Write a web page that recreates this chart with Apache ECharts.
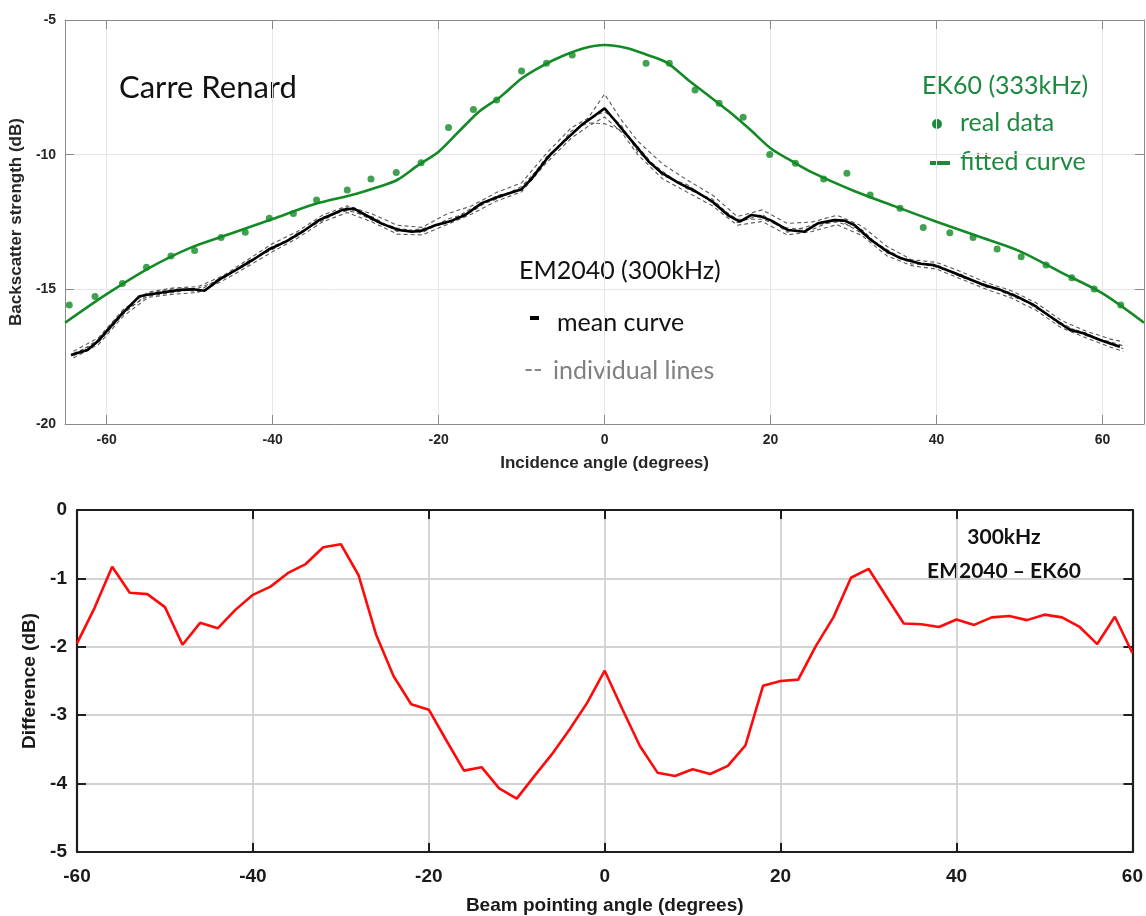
<!DOCTYPE html>
<html><head><meta charset="utf-8">
<script src="https://cdn.jsdelivr.net/npm/echarts@6/dist/echarts.min.js"></script>
<style>html,body{margin:0;padding:0;background:#fff}#c{width:1146px;height:916px}</style>
</head><body><div id="c"></div><script>
// ---------- Top chart data (Carre Renard) ----------
// EK60 fitted curve
const fitX = [-65,-60,-55,-50,-45,-40,-35,-30,-27.5,-25,-22.5,-20,-17.5,-15,-12.5,-10,-7.5,-5,-2.5,0,2.5,5,7.5,10,12.5,15,17.5,20,22.5,25,30,35,40,45,50,55,60,65];
const fitY = [-16.24,-15.18,-14.23,-13.47,-12.93,-12.39,-11.84,-11.46,-11.22,-10.94,-10.40,-9.89,-9.12,-8.37,-7.84,-7.17,-6.70,-6.33,-6.05,-5.93,-6.03,-6.28,-6.58,-7.21,-7.80,-8.40,-9.06,-9.76,-10.23,-10.66,-11.34,-11.92,-12.49,-13.03,-13.58,-14.37,-15.15,-16.24];
// EK60 real data points
const ptX = [-64.5,-61.4,-58.1,-55.2,-52.25,-49.4,-46.2,-43.3,-40.4,-37.5,-34.7,-31.0,-28.15,-25.1,-22.1,-18.8,-15.8,-13.0,-10.0,-7.0,-3.9,5.0,7.8,10.9,13.8,16.7,19.9,23.0,26.4,29.2,32.0,35.6,38.4,41.6,44.4,47.3,50.2,53.2,56.3,59.0,62.2];
const ptY = [-15.58,-15.27,-14.78,-14.18,-13.76,-13.56,-13.08,-12.88,-12.36,-12.18,-11.68,-11.31,-10.90,-10.66,-10.30,-8.99,-8.32,-7.97,-6.89,-6.61,-6.30,-6.61,-6.61,-7.60,-8.09,-8.61,-9.99,-10.32,-10.90,-10.69,-11.50,-11.99,-12.70,-12.90,-13.08,-13.50,-13.79,-14.10,-14.57,-14.99,-15.58];
// EM2040 mean curve
const meanX = [-64.3,-62.3,-61.1,-59.7,-58.1,-56.1,-55.3,-53.3,-51.2,-49.6,-48.2,-46.4,-44.4,-42.4,-40.4,-38.4,-36.4,-34.4,-33.0,-31.6,-30.2,-28.8,-26.8,-24.8,-23.2,-22.0,-20.4,-18.4,-16.8,-14.8,-12.8,-10.0,-8.8,-6.7,-4.7,-2.7,-1.1,0,1.3,3.3,5.3,6.9,8.9,10.9,12.9,14.9,16.3,17.7,18.9,20.1,22.1,24.1,25.7,27.7,28.9,30.1,32.1,34.1,35.7,38.1,39.7,41.7,43.7,45.7,47.7,49.7,51.7,53.7,56.1,57.7,59.7,62.1];
const meanY = [-17.44,-17.25,-16.94,-16.45,-15.89,-15.27,-15.21,-15.12,-15.02,-15.00,-15.05,-14.63,-14.28,-13.91,-13.51,-13.23,-12.86,-12.43,-12.24,-12.05,-12.0,-12.24,-12.57,-12.80,-12.86,-12.82,-12.62,-12.45,-12.24,-11.80,-11.56,-11.28,-10.90,-10.05,-9.45,-8.88,-8.53,-8.28,-8.75,-9.50,-10.25,-10.68,-11.05,-11.35,-11.72,-12.25,-12.49,-12.24,-12.30,-12.45,-12.80,-12.86,-12.55,-12.43,-12.45,-12.61,-13.17,-13.60,-13.85,-14.05,-14.10,-14.34,-14.59,-14.84,-15.02,-15.27,-15.58,-16.01,-16.51,-16.63,-16.88,-17.13];
// EM2040 individual lines
const indX = [-64,-61,-58,-55,-52,-49,-46,-43,-40,-37,-34,-31,-28,-25,-22,-19,-16,-13,-10,-7,-4,-2,0,2,4,7,10,13,16,19,22,25,28,31,34,37,40,43,46,49,52,55,58,61,62.5];
const ind1 = [-17.30,-16.80,-15.75,-15.10,-14.95,-14.90,-14.50,-13.90,-13.30,-12.85,-12.25,-11.90,-12.20,-12.62,-12.70,-12.20,-11.90,-11.40,-11.05,-9.95,-9.00,-8.65,-7.75,-8.70,-9.50,-10.35,-10.95,-11.50,-12.30,-12.05,-12.55,-12.50,-12.25,-12.65,-13.40,-13.90,-14.00,-14.35,-14.75,-15.05,-15.50,-16.15,-16.55,-16.85,-16.95];
const ind2 = [-17.55,-17.05,-16.00,-15.30,-15.18,-15.12,-14.68,-14.15,-13.60,-13.10,-12.50,-12.15,-12.50,-12.95,-12.98,-12.60,-12.20,-11.72,-11.38,-10.30,-9.38,-8.95,-8.60,-9.15,-10.00,-10.90,-11.40,-11.90,-12.62,-12.48,-12.98,-12.85,-12.60,-13.00,-13.75,-14.12,-14.25,-14.62,-15.00,-15.32,-15.78,-16.42,-16.80,-17.15,-17.30];
const ind3 = [-17.38,-16.98,-15.92,-15.15,-14.98,-15.08,-14.52,-14.08,-13.40,-13.02,-12.32,-12.08,-12.30,-12.85,-12.75,-12.55,-11.98,-11.65,-11.18,-10.22,-9.12,-8.82,-8.85,-9.10,-9.70,-10.78,-11.12,-11.80,-12.40,-12.40,-12.72,-12.78,-12.38,-12.92,-13.52,-14.06,-14.08,-14.55,-14.82,-15.25,-15.60,-16.35,-16.62,-17.05,-17.20];
const ind4 = [-17.48,-16.86,-15.80,-15.25,-15.12,-14.96,-14.62,-13.96,-13.52,-12.92,-12.45,-11.96,-12.44,-12.72,-12.90,-12.40,-12.12,-11.52,-11.32,-10.08,-9.28,-8.68,-8.40,-8.90,-9.90,-10.62,-11.28,-11.65,-12.52,-12.22,-12.88,-12.62,-12.50,-12.78,-13.65,-13.95,-14.18,-14.45,-14.92,-15.12,-15.70,-16.25,-16.72,-16.95,-17.10];

// ---------- Bottom chart data (difference) ----------
const diffX = [-60,-58,-56,-54,-52,-50,-48,-46,-44,-42,-40,-38,-36,-34,-32,-30,-28,-26,-24,-22,-20,-18,-16,-14,-12,-10,-8,-6,-4,-2,0,2,4,6,8,10,12,14,16,18,20,22,24,26,28,30,32,34,36,38,40,42,44,46,48,50,52,54,56,58,60];
const diffY = [-1.95,-1.43,-0.83,-1.21,-1.23,-1.42,-1.97,-1.65,-1.73,-1.46,-1.24,-1.12,-0.92,-0.79,-0.545,-0.50,-0.95,-1.82,-2.43,-2.84,-2.92,-3.37,-3.81,-3.76,-4.07,-4.22,-3.89,-3.57,-3.21,-2.82,-2.35,-2.91,-3.45,-3.84,-3.89,-3.79,-3.86,-3.74,-3.44,-2.57,-2.50,-2.48,-1.99,-1.57,-0.99,-0.86,-1.26,-1.66,-1.67,-1.71,-1.60,-1.68,-1.57,-1.55,-1.61,-1.53,-1.57,-1.71,-1.96,-1.56,-2.09];

const zip = (xs, ys) => xs.map((x, i) => [x, ys[i]]);
const FONT = '"Liberation Sans", Arial, sans-serif';
const TFONT = 'Lato, "Open Sans", sans-serif';
const GREEN = '#138a26';
const GREEN_T = '#1b8a3e';
const TOPG = '#8a8a8a';
const DARK = '#1e1e1e';

const topAxisCommon = {
  type: 'value', gridIndex: 0,
  axisLine: { show: true, onZero: false, lineStyle: { color: TOPG, width: 1 } },
  axisTick: { show: true, inside: true, length: 9, lineStyle: { color: TOPG, width: 1 } }
};
const botAxisCommon = {
  type: 'value', gridIndex: 1,
  axisLine: { show: true, onZero: false, lineStyle: { color: DARK, width: 2.2 } },
  axisTick: { show: true, inside: true, length: 9, lineStyle: { color: DARK, width: 2 } }
};
const topLabel = { color: '#262626', fontFamily: FONT, fontWeight: 'bold', fontSize: 14 };
const botLabel = { color: '#1a1a1a', fontFamily: FONT, fontWeight: 'bold', fontSize: 19 };

const chart = echarts.init(document.getElementById('c'));
chart.setOption({
  animation: false,
  backgroundColor: '#fff',
  grid: [
    { left: 62, right: 2, top: 20, height: 404 },
    { left: 77, right: 13, top: 510, height: 343 }
  ],
  xAxis: [
    Object.assign({}, topAxisCommon, {
      min: -65, max: 65, splitNumber: 6, position: 'bottom',
      axisLabel: Object.assign({ showMinLabel: false, showMaxLabel: false, margin: 9 }, topLabel),
      splitLine: { show: true, lineStyle: { color: '#e6e6e6', width: 1 } },
      name: 'Incidence angle (degrees)', nameLocation: 'middle', nameGap: 31,
      nameTextStyle: { color: '#262626', fontFamily: FONT, fontWeight: 'bold', fontSize: 17 }
    }),
    Object.assign({}, topAxisCommon, {
      min: -65, max: 65, splitNumber: 6, position: 'top',
      axisLabel: { show: false }, splitLine: { show: false }
    }),
    Object.assign({}, botAxisCommon, {
      min: -60, max: 60, interval: 20, position: 'bottom',
      axisLabel: Object.assign({ margin: 15 }, botLabel),
      splitLine: { show: true, lineStyle: { color: '#d2d2d2', width: 1.8 } },
      name: 'Beam pointing angle (degrees)', nameLocation: 'middle', nameGap: 44,
      nameTextStyle: { color: '#1a1a1a', fontFamily: FONT, fontWeight: 'bold', fontSize: 19 }
    }),
    Object.assign({}, botAxisCommon, {
      min: -60, max: 60, interval: 20, position: 'top',
      axisLabel: { show: false }, splitLine: { show: false }
    })
  ],
  yAxis: [
    Object.assign({}, topAxisCommon, {
      min: -20, max: -5, interval: 5, position: 'left',
      axisLabel: Object.assign({ margin: 9 }, topLabel),
      splitLine: { show: true, lineStyle: { color: '#e6e6e6', width: 1 } },
      name: 'Backscatter strength (dB)', nameLocation: 'middle', nameGap: 35,
      nameTextStyle: { color: '#262626', fontFamily: FONT, fontWeight: 'bold', fontSize: 17 }
    }),
    Object.assign({}, topAxisCommon, {
      min: -20, max: -5, interval: 5, position: 'right',
      axisLabel: { show: false }, splitLine: { show: false }
    }),
    Object.assign({}, botAxisCommon, {
      min: -5, max: 0, interval: 1, position: 'left',
      axisLabel: Object.assign({ margin: 10 }, botLabel),
      splitLine: { show: true, lineStyle: { color: '#d2d2d2', width: 1.8 } },
      name: 'Difference (dB)', nameLocation: 'middle', nameGap: 32,
      nameTextStyle: { color: '#1a1a1a', fontFamily: FONT, fontWeight: 'bold', fontSize: 19 }
    }),
    Object.assign({}, botAxisCommon, {
      min: -5, max: 0, interval: 1, position: 'right',
      axisLabel: { show: false }, splitLine: { show: false }
    })
  ],
  series: [
    ...[ind1, ind2, ind3, ind4].map(arr => ({
      type: 'line', xAxisIndex: 0, yAxisIndex: 0, data: zip(indX, arr),
      symbol: 'none', z: 2,
      lineStyle: { color: '#3c3c3c', width: 1.1, type: [4, 3], opacity: 0.85 }
    })),
    {
      type: 'line', xAxisIndex: 0, yAxisIndex: 0, data: zip(meanX, meanY),
      symbol: 'none', z: 3, lineStyle: { color: '#000', width: 2.6 }
    },
    {
      type: 'line', xAxisIndex: 0, yAxisIndex: 0, data: zip(fitX, fitY),
      symbol: 'none', smooth: 0.3, z: 4, lineStyle: { color: GREEN, width: 2.6 }
    },
    {
      type: 'scatter', xAxisIndex: 0, yAxisIndex: 0, data: zip(ptX, ptY),
      symbol: 'circle', symbolSize: 7, z: 5, itemStyle: { color: GREEN }
    },
    {
      type: 'line', xAxisIndex: 2, yAxisIndex: 2, data: zip(diffX, diffY),
      symbol: 'none', z: 3, lineStyle: { color: '#ff0a0a', width: 2.6 }
    }
  ],
  graphic: [
    { type: 'text', x: 119, y: 88, style: { text: 'Carre Renard', font: '31px ' + TFONT, fill: '#111', align: 'left', verticalAlign: 'middle' } },
    { type: 'text', x: 922, y: 86, style: { text: 'EK60 (333kHz)', font: '25px ' + TFONT, fill: GREEN_T, align: 'left', verticalAlign: 'middle' } },
    { type: 'circle', shape: { cx: 937, cy: 124, r: 5 }, style: { fill: GREEN_T, stroke: null, lineWidth: 0 } },
    { type: 'text', x: 960, y: 123, style: { text: 'real data', font: '25px ' + TFONT, fill: GREEN_T, align: 'left', verticalAlign: 'middle' } },
    { type: 'rect', shape: { x: 930, y: 161, width: 20, height: 4 }, style: { fill: GREEN_T, stroke: null, lineWidth: 0 } },
    { type: 'text', x: 960, y: 162, style: { text: 'fitted curve', font: '25px ' + TFONT, fill: GREEN_T, align: 'left', verticalAlign: 'middle' } },
    { type: 'text', x: 519, y: 271, style: { text: 'EM2040 (300kHz)', font: '25px ' + TFONT, fill: '#111', align: 'left', verticalAlign: 'middle' } },
    { type: 'rect', shape: { x: 530, y: 316, width: 9, height: 4 }, style: { fill: '#000', stroke: null, lineWidth: 0 } },
    { type: 'text', x: 557, y: 323, style: { text: 'mean curve', font: '25px ' + TFONT, fill: '#111', align: 'left', verticalAlign: 'middle' } },
    { type: 'text', x: 524, y: 370, style: { text: '--', font: '25px ' + TFONT, fill: '#808080', align: 'left', verticalAlign: 'middle' } },
    { type: 'text', x: 553, y: 371, style: { text: 'individual lines', font: '25px ' + TFONT, fill: '#808080', align: 'left', verticalAlign: 'middle' } },
    { type: 'text', x: 1004, y: 537, style: { text: '300kHz', font: 'bold 21px ' + TFONT, fill: '#111', align: 'center', verticalAlign: 'middle' } },
    { type: 'text', x: 1004, y: 571, style: { text: 'EM2040 – EK60', font: 'bold 21px ' + TFONT, fill: '#111', align: 'center', verticalAlign: 'middle' } }
  ]
});
</script></body></html>
